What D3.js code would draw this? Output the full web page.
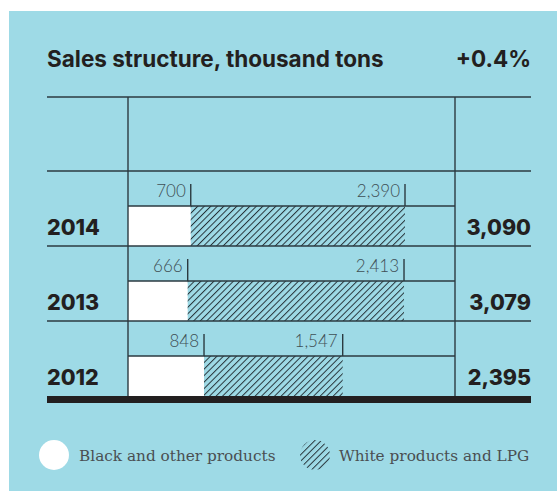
<!DOCTYPE html>
<html lang="en">
<head>
  <meta charset="UTF-8">
  <title>Sales structure, thousand tons</title>
  <style>
    body { margin: 0; background: #fff; }
  </style>
  <script src="https://d3js.org/d3.v7.min.js"></script>
</head>
<body>
  <div id="chart"></div>
  <script>
    // data
    const years = ["2014", "2013", "2012"];
    const black = [700, 666, 848];
    const white = [2390, 2413, 1547];
    const totals = [3090, 3079, 2395];
    const change = "+0.4%";
    const legendLabels = ["Black and other products", "White products and LPG"];

    const W = 557, H = 491;
    const ink = "#2b3a40";
    const svg = d3.select("#chart").append("svg")
      .attr("width", W).attr("height", H)
      .attr("font-family", "Inter, Lato, sans-serif");

    const defs = svg.append("defs");
    const pat = defs.append("pattern")
      .attr("id", "hatch")
      .attr("patternUnits", "userSpaceOnUse")
      .attr("width", 4.6).attr("height", 4.6)
      .attr("patternTransform", "rotate(45)");
    pat.append("line")
      .attr("x1", 0).attr("y1", 0).attr("x2", 0).attr("y2", 4.6)
      .attr("stroke", "#27343a").attr("stroke-width", 2);

    // panel
    svg.append("rect").attr("x", 9).attr("y", 11)
      .attr("width", W - 9).attr("height", H - 11)
      .attr("fill", "#9edae6");

    const rows = years.map((y, i) => ({ year: y, black: black[i], white: white[i], total: totals[i] }));

    const y = d3.scaleBand().domain(years).range([171, 396]);
    const x = d3.scaleLinear().domain([0, d3.max(totals)]).range([128, 405]);
    const left = 47, right = 531, divider = 455;
    const labelH = 35;

    // title
    svg.append("text").attr("x", left).attr("y", 67)
      .attr("font-size", 22.5).attr("font-weight", 700).attr("fill", "#231f20")
      .text("Sales structure, thousand tons");
    svg.append("text").attr("x", right).attr("y", 67)
      .attr("text-anchor", "end")
      .attr("font-size", 22.5).attr("font-weight", 700).attr("fill", "#231f20")
      .text(change);

    // bars
    const g = svg.append("g");
    g.selectAll(".black").data(rows).join("rect")
      .attr("x", x(0))
      .attr("y", d => y(d.year) + labelH)
      .attr("width", d => x(d.black) - x(0))
      .attr("height", y.bandwidth() - labelH)
      .attr("fill", "#fff");
    g.selectAll(".white").data(rows).join("rect")
      .attr("x", d => x(d.black))
      .attr("y", d => y(d.year) + labelH)
      .attr("width", d => x(d.black + d.white) - x(d.black))
      .attr("height", y.bandwidth() - labelH)
      .attr("fill", "url(#hatch)");

    // grid lines
    const hl = [97].concat(years.map(d => y(d)));
    svg.selectAll(".hl").data(hl).join("line")
      .attr("x1", left).attr("x2", right)
      .attr("y1", d => d).attr("y2", d => d)
      .attr("stroke", ink).attr("stroke-width", 1.4);
    svg.selectAll(".bl").data(rows).join("line")
      .attr("x1", x(0)).attr("x2", divider)
      .attr("y1", d => y(d.year) + labelH).attr("y2", d => y(d.year) + labelH)
      .attr("stroke", ink).attr("stroke-width", 1.4);
    svg.selectAll(".vl").data([x(0), divider]).join("line")
      .attr("x1", d => d).attr("x2", d => d)
      .attr("y1", 97).attr("y2", 396)
      .attr("stroke", ink).attr("stroke-width", 1.4);

    // ticks and value labels
    const marks = [];
    rows.forEach(d => {
      marks.push({ year: d.year, pos: d.black, v: d.black });
      marks.push({ year: d.year, pos: d.black + d.white, v: d.white });
    });
    svg.selectAll(".tk").data(marks).join("line")
      .attr("x1", d => x(d.pos)).attr("x2", d => x(d.pos))
      .attr("y1", d => y(d.year) + 13).attr("y2", d => y(d.year) + labelH)
      .attr("stroke", ink).attr("stroke-width", 1.4);
    svg.selectAll(".vt").data(marks).join("text")
      .attr("x", d => x(d.pos) - 5)
      .attr("y", d => y(d.year) + 26)
      .attr("text-anchor", "end")
      .attr("font-family", "Lato").attr("font-weight", 300)
      .attr("font-size", 17).attr("fill", "#3f4f55")
      .text(d => d3.format(",")(d.v));

    // year and total labels
    svg.selectAll(".yr").data(rows).join("text")
      .attr("x", left).attr("y", d => y(d.year) + 64)
      .attr("font-size", 21.5).attr("font-weight", 800).attr("fill", "#231f20")
      .text(d => d.year);
    svg.selectAll(".tt").data(rows).join("text")
      .attr("x", right).attr("y", d => y(d.year) + 64)
      .attr("text-anchor", "end")
      .attr("font-size", 21.5).attr("font-weight", 800).attr("fill", "#231f20")
      .text(d => d3.format(",")(d.total));

    // baseline
    svg.append("rect").attr("x", left).attr("y", 396)
      .attr("width", right - left).attr("height", 7).attr("fill", "#231f20");

    // legend
    const lg = svg.append("g");
    lg.append("circle").attr("cx", 54).attr("cy", 455).attr("r", 15).attr("fill", "#fff");
    lg.append("circle").attr("cx", 315).attr("cy", 455).attr("r", 15).attr("fill", "url(#hatch)");
    lg.selectAll("text").data(legendLabels).join("text")
      .attr("x", (d, i) => i ? 339 : 79).attr("y", 461)
      .attr("font-family", "DejaVu Serif").attr("font-size", 15.3)
      .attr("fill", "#4a4f52")
      .text(d => d);
  </script>
</body>
</html>
